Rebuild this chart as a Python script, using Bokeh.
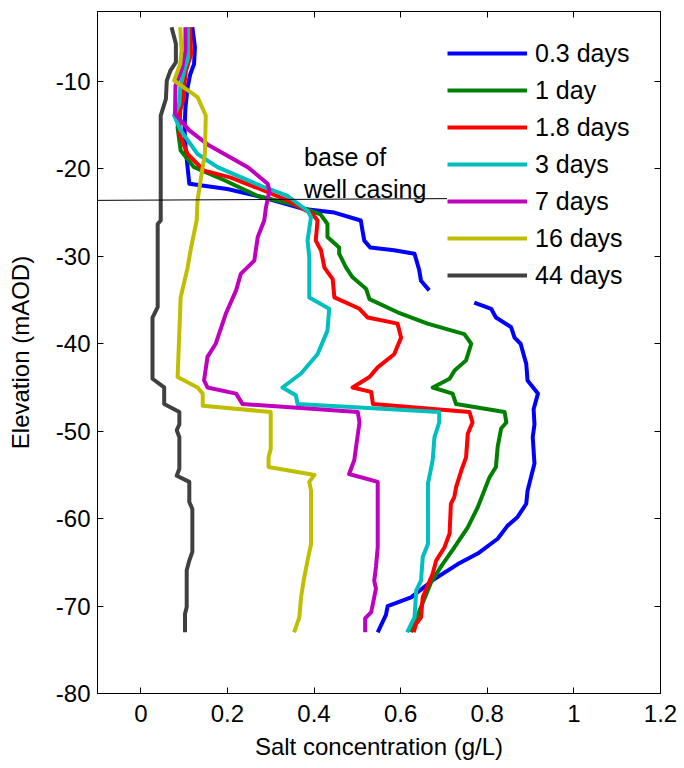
import numpy as np
from bokeh.plotting import figure
from bokeh.models import Legend, LegendItem, LinearAxis, Range1d, FixedTicker, CustomJSTickFormatter
from bokeh.core.properties import value
from bokeh.embed import file_html
from bokeh.resources import INLINE

# ---- data ----
series_labels = ["0.3 days", "1 day", "1.8 days", "3 days", "7 days", "16 days", "44 days"]
series_colors = ["#0000FF", "#008000", "#FF0000", "#00BFBF", "#BF00BF", "#BFBF00", "#404040"]

NAN = float("nan")  # the 0.3-day curve is hidden behind the legend between -33.9 and -35.3 m

d03_y = [-3.8, -6.1, -8.0, -9.2, -10.7, -13.0, -15.5, -17.9, -21.7, -22.3, -23.3, -24.6, -25.0, -25.9, -27.1,
         -28.2, -29.0, -29.3, -29.7, -31.6, -32.8, -33.9, NAN, -35.3, -36.0, -37.0, -38.1, -39.3, -40.0, -42.3,
         -44.2, -45.7, -47.5, -49.2, -50.7, -53.7, -56.8, -58.3, -59.8, -60.8, -62.3, -64.0, -65.2, -66.9,
         -69.0, -70.0, -71.0, -73.0]
d03_x = [0.119, 0.125, 0.123, 0.114, 0.108, 0.103, 0.101, 0.104, 0.112, 0.200, 0.285, 0.377, 0.447, 0.508, 0.512,
         0.516, 0.530, 0.585, 0.632, 0.643, 0.647, 0.666, NAN, 0.770, 0.809, 0.820, 0.855, 0.863, 0.877, 0.890,
         0.893, 0.917, 0.907, 0.909, 0.905, 0.909, 0.893, 0.890, 0.870, 0.847, 0.824, 0.778, 0.732, 0.678,
         0.624, 0.570, 0.566, 0.547]

d1_y = [-3.8, -7.0, -9.0, -11.0, -13.0, -15.3, -17.9, -19.8, -21.3, -23.1, -24.0, -25.2, -26.3, -27.8, -29.0,
        -29.7, -31.3, -32.4, -33.7, -34.9, -36.4, -37.7, -38.9, -40.0, -41.9, -43.1, -44.0, -45.0, -45.7,
        -46.9, -47.8, -49.0, -49.7, -51.8, -54.1, -55.3, -56.8, -58.7, -61.0, -63.3, -65.2, -67.3, -70.1, -73.0]
d1_x = [0.110, 0.112, 0.100, 0.095, 0.088, 0.085, 0.092, 0.123, 0.193, 0.270, 0.347, 0.415, 0.431, 0.431, 0.458,
        0.458, 0.474, 0.489, 0.520, 0.528, 0.593, 0.662, 0.747, 0.763, 0.751, 0.724, 0.713, 0.674, 0.720,
        0.728, 0.840, 0.844, 0.832, 0.824, 0.820, 0.805, 0.793, 0.778, 0.755, 0.724, 0.697, 0.670, 0.647, 0.624]

d18_y = [-3.8, -6.9, -8.8, -10.7, -11.8, -13.3, -16.0, -18.3, -20.2, -21.0, -22.5, -23.6, -25.2, -25.9, -28.2,
         -29.3, -31.3, -32.6, -34.7, -36.0, -37.0, -37.7, -39.3, -41.2, -42.7, -43.8, -45.0, -45.5, -46.9,
         -47.8, -49.0, -50.3, -53.0, -54.5, -56.4, -57.5, -58.3, -61.7, -63.3, -64.8, -66.3, -69.0, -71.3,
         -72.0, -73.0]
d18_x = [0.114, 0.116, 0.104, 0.100, 0.100, 0.091, 0.089, 0.108, 0.146, 0.208, 0.285, 0.339, 0.397, 0.408, 0.404,
         0.416, 0.424, 0.443, 0.447, 0.505, 0.524, 0.593, 0.601, 0.585, 0.547, 0.528, 0.489, 0.532, 0.536,
         0.759, 0.766, 0.755, 0.751, 0.740, 0.728, 0.724, 0.716, 0.713, 0.701, 0.682, 0.674, 0.651, 0.647,
         0.636, 0.630]

d3_y = [-3.8, -7.3, -8.8, -10.7, -12.6, -13.9, -15.6, -18.3, -19.8, -22.1, -23.1, -24.8, -25.5, -28.2, -30.1,
        -34.7, -36.0, -38.5, -41.2, -43.4, -45.0, -45.9, -46.9, -47.8, -49.0, -50.7, -53.3, -56.0, -62.9,
        -64.4, -67.1, -68.2, -71.3, -73.0]
d3_x = [0.109, 0.109, 0.100, 0.091, 0.089, 0.077, 0.092, 0.131, 0.177, 0.285, 0.339, 0.385, 0.393, 0.385, 0.389,
        0.389, 0.435, 0.431, 0.408, 0.370, 0.327, 0.358, 0.362, 0.689, 0.689, 0.678, 0.674, 0.663, 0.663,
        0.651, 0.647, 0.636, 0.632, 0.615]

d7_y = [-3.8, -6.5, -8.5, -10.5, -13.7, -15.6, -17.2, -19.8, -21.7, -22.5, -24.4, -25.9, -27.8, -30.5, -32.0,
        -33.9, -36.6, -40.0, -41.5, -44.2, -45.0, -45.7, -46.9, -47.8, -49.0, -51.8, -53.3, -54.9, -55.8,
        -63.3, -65.5, -67.1, -68.0, -70.7, -71.4, -73.0]
d7_x = [0.103, 0.103, 0.095, 0.080, 0.079, 0.112, 0.154, 0.247, 0.293, 0.297, 0.289, 0.285, 0.270, 0.262, 0.231,
        0.220, 0.196, 0.173, 0.154, 0.146, 0.154, 0.220, 0.235, 0.501, 0.505, 0.497, 0.493, 0.481, 0.547,
        0.547, 0.543, 0.539, 0.543, 0.532, 0.518, 0.518]

d16_y = [-3.8, -6.5, -8.0, -9.9, -11.8, -13.9, -18.3, -21.0, -23.6, -25.9, -29.0, -31.3, -34.7, -43.8, -45.0,
         -45.7, -47.1, -47.8, -52.0, -53.0, -54.1, -55.0, -55.8, -56.8, -62.9, -64.8, -67.1, -69.0, -71.3, -73.0]
d16_x = [0.091, 0.094, 0.091, 0.077, 0.131, 0.150, 0.148, 0.139, 0.131, 0.129, 0.116, 0.108, 0.092, 0.085, 0.131,
         0.143, 0.143, 0.300, 0.300, 0.295, 0.295, 0.401, 0.389, 0.393, 0.393, 0.385, 0.376, 0.370, 0.366, 0.354]

d44_y = [-3.8, -5.7, -7.8, -8.8, -9.9, -12.0, -13.9, -25.9, -26.3, -35.8, -37.0, -44.0, -45.0, -46.9, -47.8,
         -49.2, -49.9, -50.7, -54.3, -55.1, -55.8, -58.1, -58.9, -63.8, -64.8, -65.9, -70.1, -70.9, -73.0]
d44_x = [0.071, 0.081, 0.081, 0.068, 0.060, 0.058, 0.046, 0.046, 0.039, 0.039, 0.027, 0.027, 0.054, 0.054, 0.089,
         0.089, 0.083, 0.089, 0.089, 0.083, 0.112, 0.112, 0.119, 0.119, 0.112, 0.106, 0.106, 0.102, 0.102]

casing_x = [-0.1, 0.711]
casing_y = [-23.6, -23.4]
casing_text = ["base of", "well casing"]
casing_text_x = [0.377, 0.377]
casing_text_y = [-18.65, -22.3]

x_ticks = [0, 0.2, 0.4, 0.6, 0.8, 1.0, 1.2]
x_tick_labels = ["0", "0.2", "0.4", "0.6", "0.8", "1", "1.2"]
y_ticks = [-80, -70, -60, -50, -40, -30, -20, -10]
y_tick_labels = ["-80", "-70", "-60", "-50", "-40", "-30", "-20", "-10"]

series_x = [d03_x, d1_x, d18_x, d3_x, d7_x, d16_x, d44_x]
series_y = [d03_y, d1_y, d18_y, d3_y, d7_y, d16_y, d44_y]

FONT = "Liberation Sans"

p = figure(width=684, height=768, x_range=Range1d(-0.1, 1.2), y_range=Range1d(-80, -2),
           output_backend="svg", toolbar_location=None,
           min_border_left=97, min_border_right=24, min_border_top=11, min_border_bottom=75)
p.xgrid.visible = False
p.ygrid.visible = False
p.outline_line_color = "black"
p.background_fill_color = "white"
p.border_fill_color = "white"

def style_axis(ax, ticks, labels=None):
    ax.ticker = FixedTicker(ticks=ticks)
    if labels is not None:
        ax.major_label_overrides = {t: l for t, l in zip(ticks, labels)}
    else:
        ax.formatter = CustomJSTickFormatter(code="return ''")
    ax.major_tick_in = 6
    ax.major_tick_out = 0
    ax.minor_tick_line_color = None
    ax.axis_line_color = "black"
    ax.major_tick_line_color = "black"
    ax.major_label_text_font = FONT
    ax.major_label_text_font_size = "24px"
    ax.major_label_text_color = "black"
    ax.axis_label_text_font = FONT
    ax.axis_label_text_font_size = "24px"
    ax.axis_label_text_font_style = "normal"
    ax.axis_label_text_color = "black"

style_axis(p.xaxis[0], x_ticks, x_tick_labels)
style_axis(p.yaxis[0], y_ticks, y_tick_labels)
p.xaxis[0].axis_label = "Salt concentration (g/L)"
p.yaxis[0].axis_label = "Elevation (mAOD)"
p.xaxis[0].major_label_standoff = 11
p.yaxis[0].major_label_standoff = 7
p.xaxis[0].axis_label_standoff = 8
p.yaxis[0].axis_label_standoff = 19

top_ax = LinearAxis()
style_axis(top_ax, x_ticks)
top_ax.major_label_standoff = 0
p.add_layout(top_ax, "above")
right_ax = LinearAxis()
style_axis(right_ax, y_ticks)
right_ax.major_label_standoff = 0
p.add_layout(right_ax, "right")

renderers = []
for xs, ys, c in zip(series_x, series_y, series_colors):
    r = p.line(np.array(xs), np.array(ys), line_color=c, line_width=4, line_join="round")
    renderers.append(r)

p.text(x=casing_text_x, y=casing_text_y, text=casing_text, text_font=value(FONT),
       text_font_size="25px", text_color="black", text_align="left", text_baseline="alphabetic")

legend = Legend(items=[LegendItem(label=l, renderers=[r]) for l, r in zip(series_labels, renderers)],
                location=(350, 403), glyph_width=80, glyph_height=30, label_height=30, spacing=7,
                padding=12, label_standoff=8, margin=0,
                label_text_font=FONT, label_text_font_size="25px", label_text_color="black",
                border_line_color=None, background_fill_color="white", background_fill_alpha=1.0)
p.add_layout(legend)

# casing marker drawn last, above the legend box
p.segment(x0=[casing_x[0]], y0=[casing_y[0]], x1=[casing_x[1]], y1=[casing_y[1]],
          line_color="black", line_width=1, level="overlay")

open("out.html", "w").write(file_html(p, INLINE))
